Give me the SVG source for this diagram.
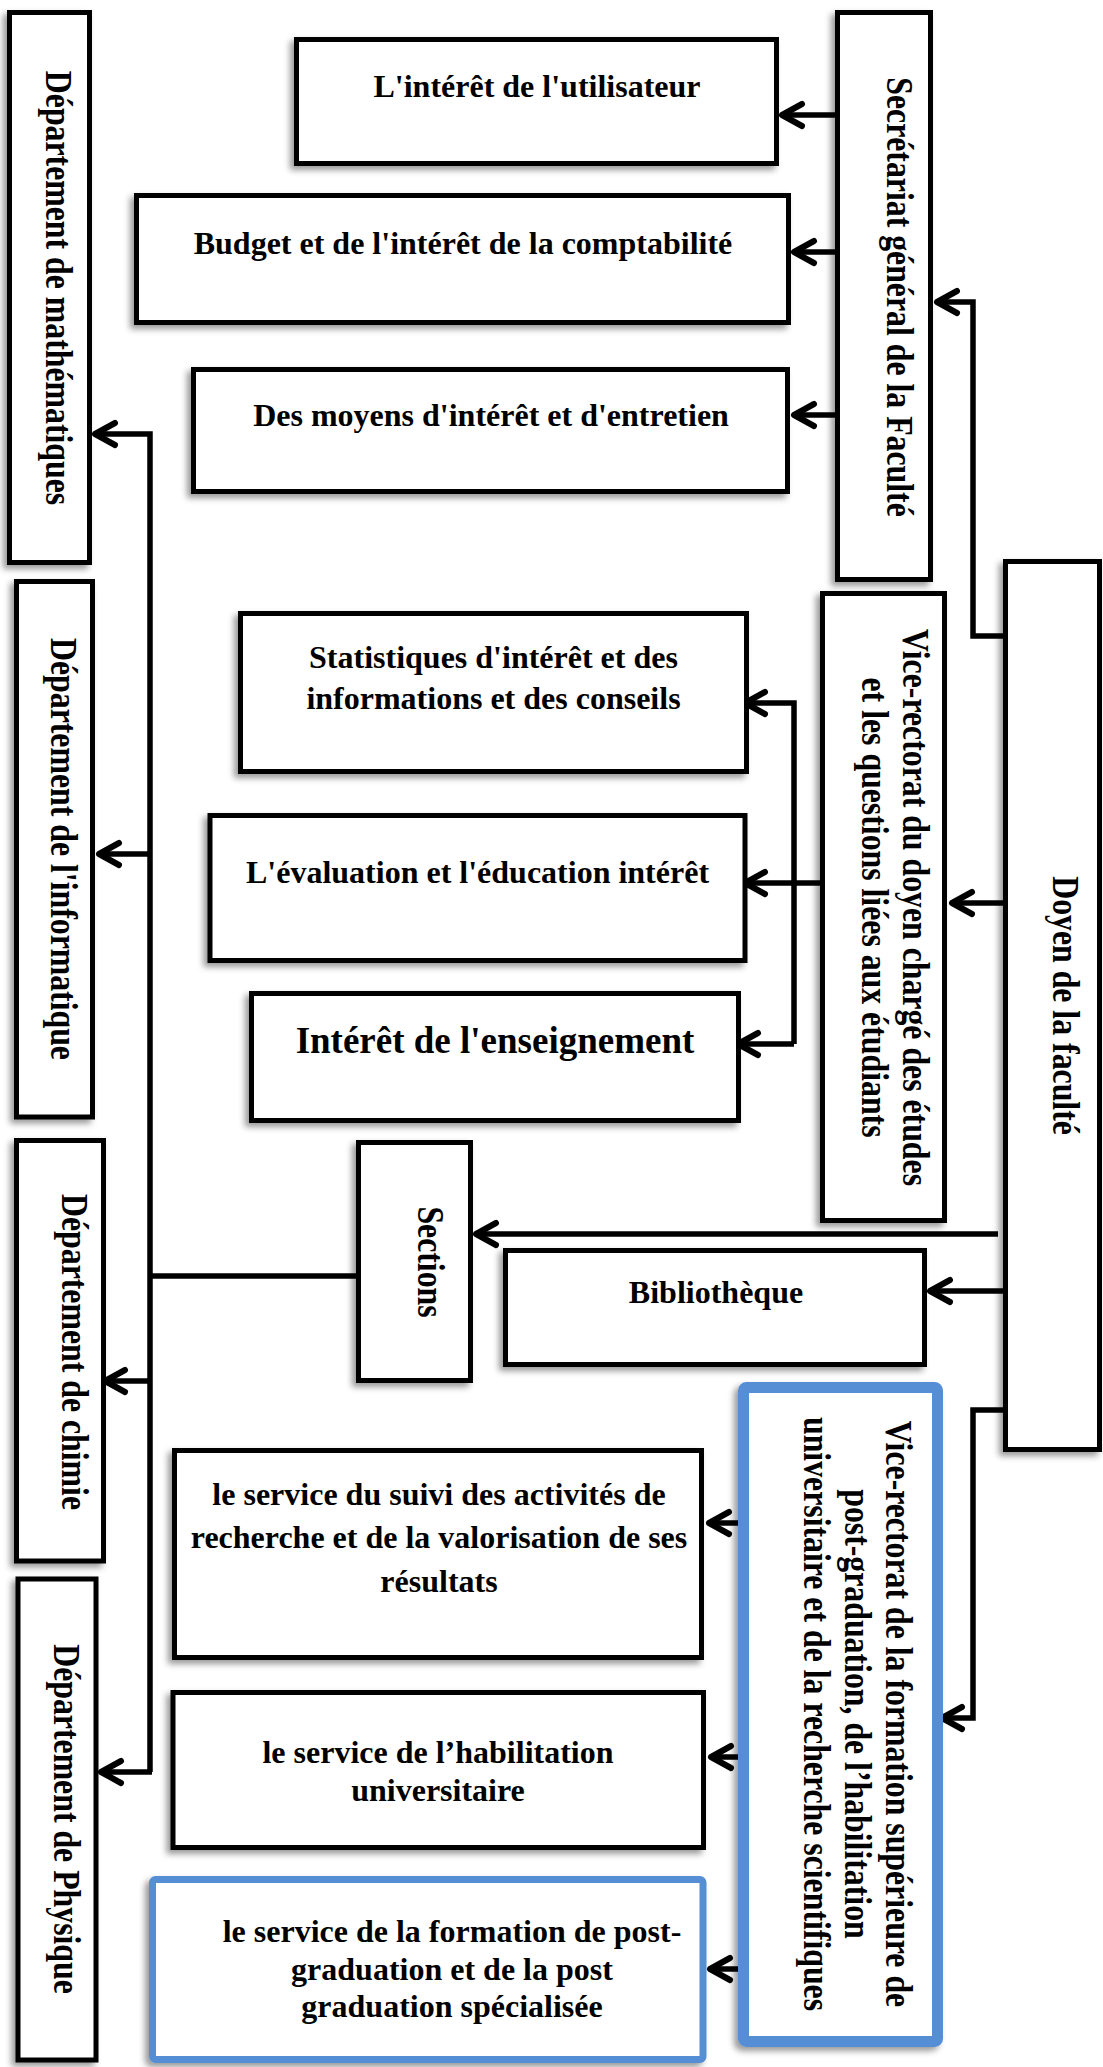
<svg xmlns="http://www.w3.org/2000/svg" width="1103" height="2067" viewBox="0 0 1103 2067">
<style>
.box{fill:#fff;stroke:#000;stroke-width:5;}
.blue{fill:#fff;stroke:#558ED5;}
.t{font-family:"Liberation Serif","Times New Roman",serif;font-weight:bold;font-size:32px;fill:#000;text-anchor:middle;}
.v{font-size:37.5px;}
.c{fill:none;stroke:#000;stroke-width:5.5;}
</style>
<defs>
<filter id="sh" x="-20%" y="-20%" width="140%" height="140%">
<feDropShadow dx="-4" dy="4" stdDeviation="3" flood-color="#000" flood-opacity="0.4"/>
</filter>
<marker id="ah" markerUnits="userSpaceOnUse" markerWidth="40" markerHeight="40" viewBox="-30 -20 40 40" refX="0" refY="0" orient="auto">
<path d="M-20,-11 L0,0 L-20,11" fill="none" stroke="#000" stroke-width="6" stroke-linecap="round" stroke-linejoin="round"/>
</marker>
</defs>
<rect width="1103" height="2067" fill="#fff"/>

<g id="connectors">
<path class="c" d="M838,115 H782" marker-end="url(#ah)"/>
<path class="c" d="M840,252 H794" marker-end="url(#ah)"/>
<path class="c" d="M840,415 H794" marker-end="url(#ah)"/>
<path class="c" d="M1004,636 H973 V302 H937" marker-end="url(#ah)"/>
<path class="c" d="M1004,903 H952" marker-end="url(#ah)"/>
<path class="c" d="M825,883 H745" marker-end="url(#ah)"/>
<path class="c" d="M794,1044 V703 H745" marker-end="url(#ah)"/>
<path class="c" d="M794,1044 H738" marker-end="url(#ah)"/>
<path class="c" d="M998,1234 H476" marker-end="url(#ah)"/>
<path class="c" d="M1004,1291 H930" marker-end="url(#ah)"/>
<path class="c" d="M358,1276 H150"/>
<path class="c" d="M150,1772 V434 H95" marker-end="url(#ah)"/>
<path class="c" d="M150,854 H99" marker-end="url(#ah)"/>
<path class="c" d="M150,1381 H105" marker-end="url(#ah)"/>
<path class="c" d="M152,1772 H101" marker-end="url(#ah)"/>
<path class="c" d="M1004,1410 H973 V1718 H942" marker-end="url(#ah)"/>
<path class="c" d="M740,1523 H709" marker-end="url(#ah)"/>
<path class="c" d="M740,1757 H711" marker-end="url(#ah)"/>
<path class="c" d="M740,1969 H710" marker-end="url(#ah)"/>
</g>

<g id="dept-math">
<rect class="box" x="9.5" y="12.5" width="80" height="550" filter="url(#sh)"/>
<text class="t v" transform="translate(46,288) rotate(90) scale(0.848,1)">Département de mathématiques</text>
</g>
<g id="dept-info">
<rect class="box" x="16.5" y="581.5" width="76" height="535.5" filter="url(#sh)"/>
<text class="t v" transform="translate(51,849) rotate(90) scale(0.848,1)">Département de l'informatique</text>
</g>
<g id="dept-chimie">
<rect class="box" x="16.5" y="1140.5" width="87" height="420.5" filter="url(#sh)"/>
<text class="t v" transform="translate(62,1352) rotate(90) scale(0.848,1)">Département de chimie</text>
</g>
<g id="dept-physique">
<rect class="box" x="18" y="1579" width="78" height="481" filter="url(#sh)"/>
<text class="t v" transform="translate(54,1819) rotate(90) scale(0.848,1)">Département de Physique</text>
</g>

<g id="utilisateur">
<rect class="box" x="296.5" y="39.5" width="480" height="124" filter="url(#sh)"/>
<text class="t" x="537" y="97">L'intérêt de l'utilisateur</text>
</g>
<g id="budget">
<rect class="box" x="136.5" y="195.5" width="652" height="127" filter="url(#sh)"/>
<text class="t" x="463" y="254">Budget et de l'intérêt de la comptabilité</text>
</g>
<g id="moyens">
<rect class="box" x="193.5" y="369.5" width="594" height="122" filter="url(#sh)"/>
<text class="t" x="491" y="426">Des moyens d'intérêt et d'entretien</text>
</g>
<g id="secretariat">
<rect class="box" x="837.5" y="12.5" width="93" height="567" filter="url(#sh)"/>
<text class="t v" transform="translate(887,297) rotate(90) scale(0.848,1)">Secrétariat général de la Faculté</text>
</g>

<g id="statistiques">
<rect class="box" x="240.5" y="613.5" width="506" height="158" filter="url(#sh)"/>
<text class="t" x="493.5" y="667.5">Statistiques d'intérêt et des</text>
<text class="t" x="493.5" y="709">informations et des conseils</text>
</g>
<g id="evaluation">
<rect class="box" x="210" y="815.5" width="535" height="145" filter="url(#sh)"/>
<text class="t" x="477.5" y="883">L'évaluation et l'éducation intérêt</text>
</g>
<g id="enseignement">
<rect class="box" x="251.5" y="993.5" width="487" height="127" filter="url(#sh)"/>
<text class="t" x="495" y="1053" style="font-size:37px">Intérêt de l'enseignement</text>
</g>
<g id="vr-etudes">
<rect class="box" x="822.5" y="593.5" width="122" height="627" filter="url(#sh)"/>
<text class="t v" transform="translate(903,907.5) rotate(90) scale(0.848,1)">Vice-rectorat du doyen chargé des études</text>
<text class="t v" transform="translate(862,907.5) rotate(90) scale(0.848,1)">et les questions liées aux étudiants</text>
</g>
<g id="doyen">
<rect class="box" x="1005.5" y="561.5" width="94" height="888" filter="url(#sh)"/>
<text class="t v" transform="translate(1053,1005.5) rotate(90) scale(0.848,1)">Doyen de la faculté</text>
</g>
<g id="sections">
<rect class="box" x="358.5" y="1142.5" width="112" height="238" filter="url(#sh)"/>
<text class="t v" transform="translate(418,1262) rotate(90) scale(0.848,1)">Sections</text>
</g>
<g id="bibliotheque">
<rect class="box" x="505.5" y="1250.5" width="419" height="114" filter="url(#sh)"/>
<text class="t" x="716" y="1303">Bibliothèque</text>
</g>
<g id="vr-formation">
<rect class="blue" x="743.5" y="1387.5" width="194" height="654" rx="3" stroke-width="11" filter="url(#sh)"/>
<text class="t v" transform="translate(886,1714) rotate(90) scale(0.848,1)">Vice-rectorat de la formation supérieure de</text>
<text class="t v" transform="translate(845,1714) rotate(90) scale(0.848,1)">post-graduation, de l’habilitation</text>
<text class="t v" transform="translate(804,1714) rotate(90) scale(0.848,1)">universitaire et de la recherche scientifiques</text>
</g>
<g id="service-suivi">
<rect class="box" x="174.5" y="1450.5" width="527" height="207" filter="url(#sh)"/>
<text class="t" x="439" y="1505">le service du suivi des activités de</text>
<text class="t" x="439" y="1548">recherche et de la valorisation de ses</text>
<text class="t" x="439" y="1592">résultats</text>
</g>
<g id="habilitation">
<rect class="box" x="173" y="1692.5" width="530.5" height="155" filter="url(#sh)"/>
<text class="t" x="438" y="1763">le service de l’habilitation</text>
<text class="t" x="438" y="1801">universitaire</text>
</g>
<g id="post-graduation">
<rect class="blue" x="152.5" y="1879.5" width="550.5" height="180" rx="3" stroke-width="7" filter="url(#sh)"/>
<text class="t" x="452" y="1942">le service de la formation de post-</text>
<text class="t" x="452" y="1979.5">graduation et de la post</text>
<text class="t" x="452" y="2017">graduation spécialisée</text>
</g>
</svg>
